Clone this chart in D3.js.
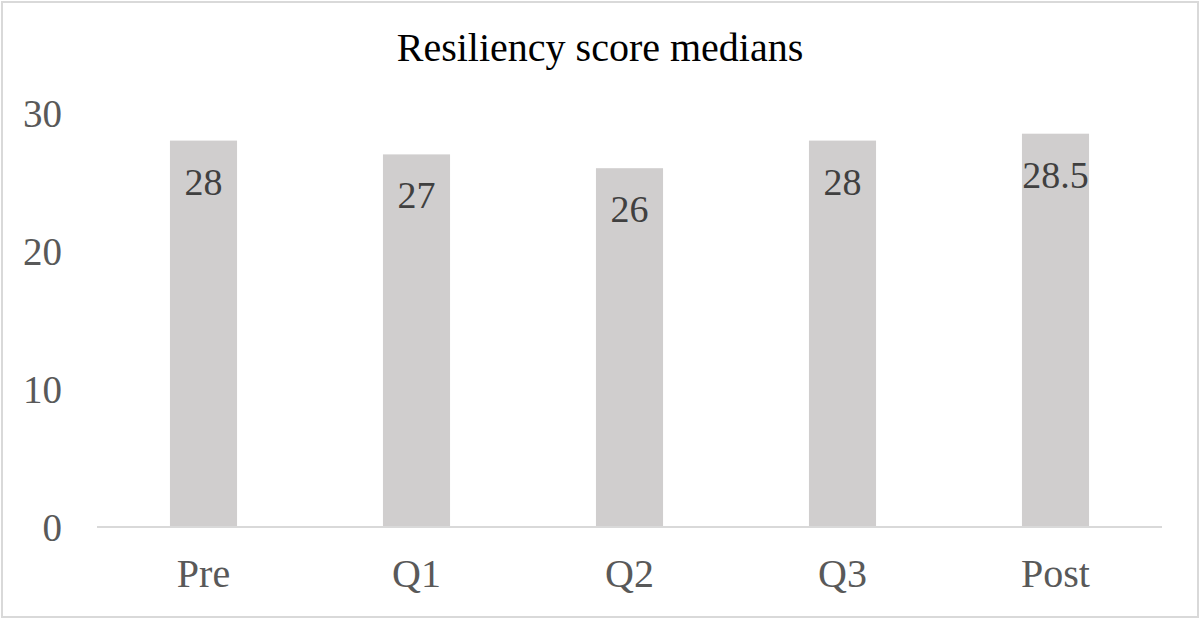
<!DOCTYPE html>
<html>
<head>
<meta charset="utf-8">
<script src="https://cdn.jsdelivr.net/npm/d3@7"></script>
<style>
  html, body { margin: 0; padding: 0; background: #fff; }
  svg { display: block; }
</style>
</head>
<body>
<svg id="chart" width="1200" height="619"></svg>
<script>
const categories = ["Pre", "Q1", "Q2", "Q3", "Post"];
const values = [28, 27, 26, 28, 28.5];
const valueLabels = ["28", "27", "26", "28", "28.5"];
const yTicks = [0, 10, 20, 30];
const title = "Resiliency score medians";

(function () {
const W = 1200, H = 619;
const svg = d3.select("#chart");
const font = "'Liberation Serif', 'Times New Roman', serif";

// border
svg.append("rect")
  .attr("x", 2).attr("y", 2).attr("width", W - 4).attr("height", H - 4)
  .attr("fill", "#fff").attr("stroke", "#d9d9d9").attr("stroke-width", 2);

const pLeft = 97, pRight = 1162, pTop = 113, pBottom = 527;

const x = d3.scaleBand().domain(categories).range([pLeft, pRight])
  .paddingInner(0.685).paddingOuter(0.3425);
const y = d3.scaleLinear().domain([0, 30]).range([pBottom, pTop]);

// title
svg.append("text")
  .attr("x", 600).attr("y", 61)
  .attr("text-anchor", "middle")
  .attr("font-family", font).attr("font-size", 40)
  .attr("fill", "#000")
  .text(title);

// bars
svg.append("g").selectAll("rect")
  .data(values)
  .join("rect")
  .attr("x", (d, i) => x(categories[i]))
  .attr("y", d => y(d))
  .attr("width", x.bandwidth())
  .attr("height", d => y(0) - y(d))
  .attr("fill", "#d0cece");

// data labels
svg.append("g").selectAll("text")
  .data(values)
  .join("text")
  .attr("x", (d, i) => x(categories[i]) + x.bandwidth() / 2)
  .attr("y", d => y(d) + 54)
  .attr("text-anchor", "middle")
  .attr("font-family", font).attr("font-size", 38)
  .attr("fill", "#404040")
  .text((d, i) => valueLabels[i]);

// y axis labels
const yAxis = d3.axisLeft(y).tickValues(yTicks).tickSize(0).tickPadding(0)
  .tickFormat(d3.format("d"));
const yg = svg.append("g").attr("transform", "translate(62,0)").call(yAxis);
yg.select(".domain").remove();
yg.selectAll("text")
  .attr("font-family", font).attr("font-size", 39)
  .attr("fill", "#595959").attr("dy", "0.35em");

// x axis
const xAxis = d3.axisBottom(x).tickSize(0).tickPadding(0);
const xg = svg.append("g").attr("transform", `translate(0,${pBottom})`).call(xAxis);
xg.select(".domain").attr("stroke", "#d9d9d9").attr("stroke-width", 2)
  .attr("d", `M${pLeft},0H${pRight}`);
xg.selectAll("text")
  .attr("font-family", font).attr("font-size", 40)
  .attr("fill", "#595959").attr("dy", null).attr("y", 60);
})();
</script>
</body>
</html>
